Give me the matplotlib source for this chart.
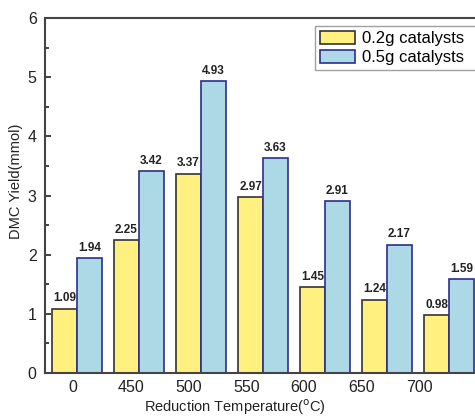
import numpy as np
import matplotlib
matplotlib.use("Agg")
import matplotlib.pyplot as plt
from matplotlib.ticker import MultipleLocator

plt.rcParams['font.family'] = ['Liberation Sans', 'DejaVu Sans']

temps = ['0', '450', '500', '550', '600', '650', '700']
yield_02 = [1.09, 2.25, 3.37, 2.97, 1.45, 1.24, 0.98]
yield_05 = [1.94, 3.42, 4.93, 3.63, 2.91, 2.17, 1.59]

W, H = 475, 417
fig = plt.figure(figsize=(W / 100, H / 100), dpi=100)
# axes runs past the right edge of the picture, as in the reference
ax = fig.add_axes([45 / W, 1 - 373 / H, 440 / W, 355 / H])

x = np.arange(len(temps))
bw = 0.403
b1 = ax.bar(x - bw / 2, yield_02, bw, color='#fff080', edgecolor='#333333',
            linewidth=1.2, label='0.2g catalysts')
b2 = ax.bar(x + bw / 2, yield_05, bw, color='#add8e6', edgecolor='#2e2e8c',
            linewidth=1.2, label='0.5g catalysts')

for bars in (b1, b2):
    for r in bars:
        ax.text(r.get_x() + r.get_width() / 2, r.get_height() + 0.07,
                '%.2f' % r.get_height(), ha='center', va='bottom',
                fontsize=8.5, fontweight='bold', color='#222222')

ax.set_xlim(-0.516, 6.58)
ax.set_ylim(0, 6)
# tick labels sit slightly off the groups in the reference
ax.set_xticks(np.linspace(-0.06, 5.52, len(temps)))
ax.set_xticklabels(temps)
ax.tick_params(axis='x', length=0, labelsize=11.5, pad=5, colors='#222222')
ax.yaxis.set_major_locator(MultipleLocator(1))
ax.yaxis.set_minor_locator(MultipleLocator(0.5))
ax.tick_params(axis='y', which='both', direction='in', labelsize=11.5,
               colors='#222222', width=1.2, pad=6)
ax.tick_params(axis='y', which='major', length=4)
ax.tick_params(axis='y', which='minor', length=3)

for s in ('left', 'top', 'bottom', 'right'):
    ax.spines[s].set_color('#444444')
    ax.spines[s].set_linewidth(1.5)

ax.set_xlabel('Reduction Temperature($^{\\rm o}$C)', fontsize=10.5,
              color='#222222')
ax.set_ylabel('DMC Yield(mmol)', fontsize=10.5, color='#222222')
ax.xaxis.set_label_coords((235 - 45) / 440, -0.068)
ax.yaxis.set_label_coords(-0.05, (373 - 181) / 355)

# legend box is cut by the right edge in the reference
leg = ax.legend(loc='upper left',
                bbox_to_anchor=(315 / W, 1 - 26 / H, 175 / W, 0),
                bbox_transform=fig.transFigure, mode='expand', fontsize=12,
                frameon=True, fancybox=False, edgecolor='#888888',
                handlelength=2.1, handleheight=0.85, handletextpad=0.4,
                labelspacing=0.2, borderpad=0.3, borderaxespad=0)
leg.get_frame().set_linewidth(1.0)

fig.savefig('out.png', dpi=100)
